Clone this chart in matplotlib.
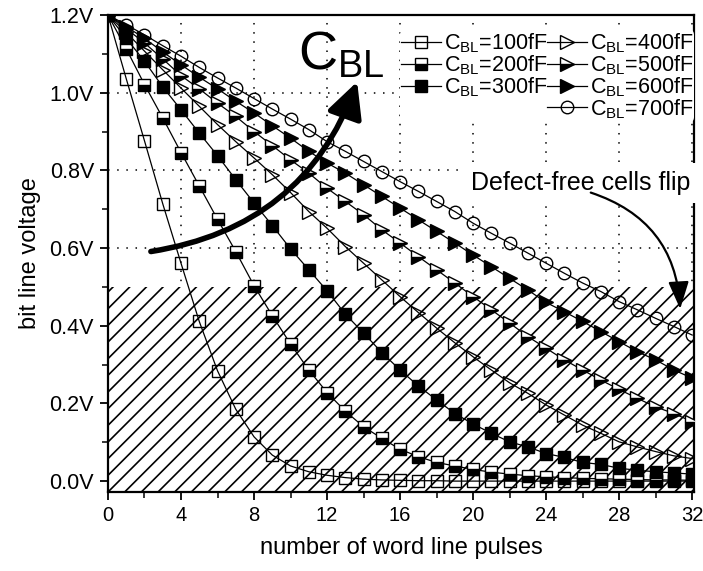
import matplotlib
matplotlib.use('Agg')
import matplotlib.pyplot as plt
from matplotlib.lines import Line2D
from matplotlib.patches import FancyArrowPatch, Rectangle
from matplotlib.ticker import MultipleLocator, FuncFormatter

plt.rcParams['font.family'] = ['Liberation Sans', 'DejaVu Sans']
plt.rcParams['mathtext.fontset'] = 'custom'
plt.rcParams['mathtext.rm'] = 'Liberation Sans'
plt.rcParams['mathtext.it'] = 'Liberation Sans:italic'
plt.rcParams['hatch.linewidth'] = 1.2

pulses = list(range(33))
v100 = [1.2, 1.036, 0.876, 0.714, 0.561, 0.411, 0.284, 0.185, 0.114, 0.067, 0.039,
        0.024, 0.015, 0.009, 0.005, 0.003, 0.002, 0.001, 0.001, 0.0, 0.0, 0.0, 0.0,
        0.0, 0.0, 0.0, 0.0, 0.0, 0.0, 0.0, 0.0, 0.0, 0.0]
v200 = [1.2, 1.113, 1.021, 0.935, 0.846, 0.760, 0.674, 0.591, 0.503, 0.426, 0.353,
        0.286, 0.228, 0.180, 0.140, 0.110, 0.082, 0.063, 0.048, 0.039, 0.030, 0.023,
        0.018, 0.014, 0.011, 0.009, 0.007, 0.006, 0.005, 0.004, 0.003, 0.003, 0.002]
v300 = [1.2, 1.140, 1.081, 1.015, 0.956, 0.896, 0.838, 0.776, 0.716, 0.658, 0.598,
        0.544, 0.490, 0.430, 0.381, 0.331, 0.286, 0.245, 0.209, 0.174, 0.147, 0.123,
        0.101, 0.088, 0.071, 0.061, 0.048, 0.043, 0.033, 0.028, 0.024, 0.021, 0.018]
v400 = [1.2, 1.155, 1.107, 1.059, 1.012, 0.965, 0.918, 0.874, 0.832, 0.789, 0.743,
        0.694, 0.651, 0.604, 0.561, 0.518, 0.475, 0.434, 0.394, 0.356, 0.320, 0.286,
        0.253, 0.226, 0.196, 0.170, 0.144, 0.123, 0.101, 0.088, 0.076, 0.065, 0.058]
v500 = [1.2, 1.165, 1.128, 1.087, 1.044, 1.010, 0.973, 0.939, 0.900, 0.864, 0.827,
        0.793, 0.754, 0.720, 0.686, 0.647, 0.613, 0.578, 0.544, 0.510, 0.475, 0.441,
        0.407, 0.372, 0.342, 0.312, 0.286, 0.260, 0.236, 0.213, 0.191, 0.174, 0.153]
v600 = [1.2, 1.170, 1.140, 1.105, 1.072, 1.040, 1.010, 0.978, 0.948, 0.915, 0.883,
        0.849, 0.819, 0.793, 0.763, 0.733, 0.703, 0.673, 0.643, 0.613, 0.582, 0.552,
        0.522, 0.492, 0.460, 0.436, 0.411, 0.385, 0.359, 0.333, 0.312, 0.286, 0.265]
v700 = [1.2, 1.175, 1.149, 1.121, 1.094, 1.065, 1.038, 1.012, 0.985, 0.958, 0.932,
        0.905, 0.874, 0.849, 0.823, 0.797, 0.771, 0.746, 0.720, 0.694, 0.664, 0.638,
        0.613, 0.587, 0.561, 0.535, 0.510, 0.488, 0.462, 0.441, 0.419, 0.398, 0.376]
capacitances = ['100', '200', '300', '400', '500', '600', '700']
flip_threshold = 0.5
x_ticks = [0, 4, 8, 12, 16, 20, 24, 28, 32]
y_ticks = [0.0, 0.2, 0.4, 0.6, 0.8, 1.0, 1.2]

series = [v100, v200, v300, v400, v500, v600, v700]
styles = [
    dict(marker='s', fillstyle='none', ms=8),
    dict(marker='s', fillstyle='bottom', ms=8),
    dict(marker='s', fillstyle='full', ms=8),
    dict(marker='>', fillstyle='none', ms=10),
    dict(marker='>', fillstyle='bottom', ms=10),
    dict(marker='>', fillstyle='full', ms=10),
    dict(marker='o', fillstyle='none', ms=9),
]

fig = plt.figure(figsize=(7.03, 5.71), dpi=100)
ax = fig.add_axes([0.1536, 0.1384, 0.8336, 0.8353])

# hatched region
ax.add_patch(Rectangle((0, -0.05), 33, flip_threshold + 0.05, facecolor='white',
                       edgecolor='black', hatch='//', linewidth=0, zorder=1))

handles = []
for vals, cap, st in zip(series, capacitances, styles):
    ln, = ax.plot(pulses, vals, color='black', lw=0.9, marker=st['marker'],
                  ms=st['ms'], fillstyle=st['fillstyle'], markerfacecolor='black',
                  markerfacecoloralt='white', markeredgecolor='black',
                  markeredgewidth=1.0, zorder=3,
                  label=r'C$_{\mathregular{BL}}$=' + cap + 'fF')
    handles.append(ln)

ax.set_xlim(0, 32.1)
ax.set_ylim(-0.028, 1.2)
ax.set_xticks(x_ticks)
ax.set_yticks(y_ticks)
ax.xaxis.set_minor_locator(MultipleLocator(2))
ax.yaxis.set_minor_locator(MultipleLocator(0.1))
ax.yaxis.set_major_formatter(FuncFormatter(lambda v, p: f'{v:.1f}V'))
ax.tick_params(which='major', direction='out', length=6, width=1.3, pad=4)
ax.tick_params(axis='x', which='major', labelsize=14.5)
ax.tick_params(axis='y', which='major', labelsize=15.5)
ax.tick_params(which='minor', direction='out', length=4, width=1.1)
for s in ax.spines.values():
    s.set_linewidth(1.6)
ax.grid(True, which='major', color='black', linestyle=(0, (1, 5)), linewidth=1.1, zorder=0)
ax.set_axisbelow(True)

ax.set_xlabel('number of word line pulses', fontsize=17, labelpad=9)
ax.set_ylabel('bit line voltage', fontsize=17, labelpad=6)

blank = Line2D([], [], linestyle='none', marker='none')
order = handles[:3] + [blank] + handles[3:]
labels = [h.get_label() for h in handles[:3]] + [''] + [h.get_label() for h in handles[3:]]
leg = ax.legend(order, labels, ncol=2, loc='upper right', bbox_to_anchor=(1.0, 0.968),
                fontsize=15.5, frameon=True, facecolor='white', edgecolor='none',
                framealpha=1, borderpad=0.05, handlelength=1.85, handletextpad=0.12,
                columnspacing=0.0, labelspacing=-0.08, numpoints=1, borderaxespad=0)
leg.set_zorder(5)

# big C_BL text and arrow
ax.text(10.4, 1.06, r'C$_{\mathregular{BL}}$', fontsize=39, ha='left', va='baseline', zorder=6)
ax.add_patch(FancyArrowPatch((2.2, 0.59), (13.7, 1.035), connectionstyle='arc3,rad=0.3',
                             arrowstyle='-|>,head_length=1.2,head_width=0.6',
                             mutation_scale=18, lw=4, color='black', zorder=6))

# Defect-free annotation
ax.text(31.9, 0.768, 'Defect-free cells flip', fontsize=18, ha='right', va='center',
        zorder=7, clip_on=False,
        bbox=dict(facecolor='white', edgecolor='none', pad=6))
ax.add_patch(FancyArrowPatch((26.3, 0.745), (31.35, 0.436), connectionstyle='arc3,rad=-0.35',
                             arrowstyle='-|>,head_length=1.2,head_width=0.45',
                             mutation_scale=14, lw=1.6, color='black', zorder=8))

fig.savefig('out.png', dpi=100)
